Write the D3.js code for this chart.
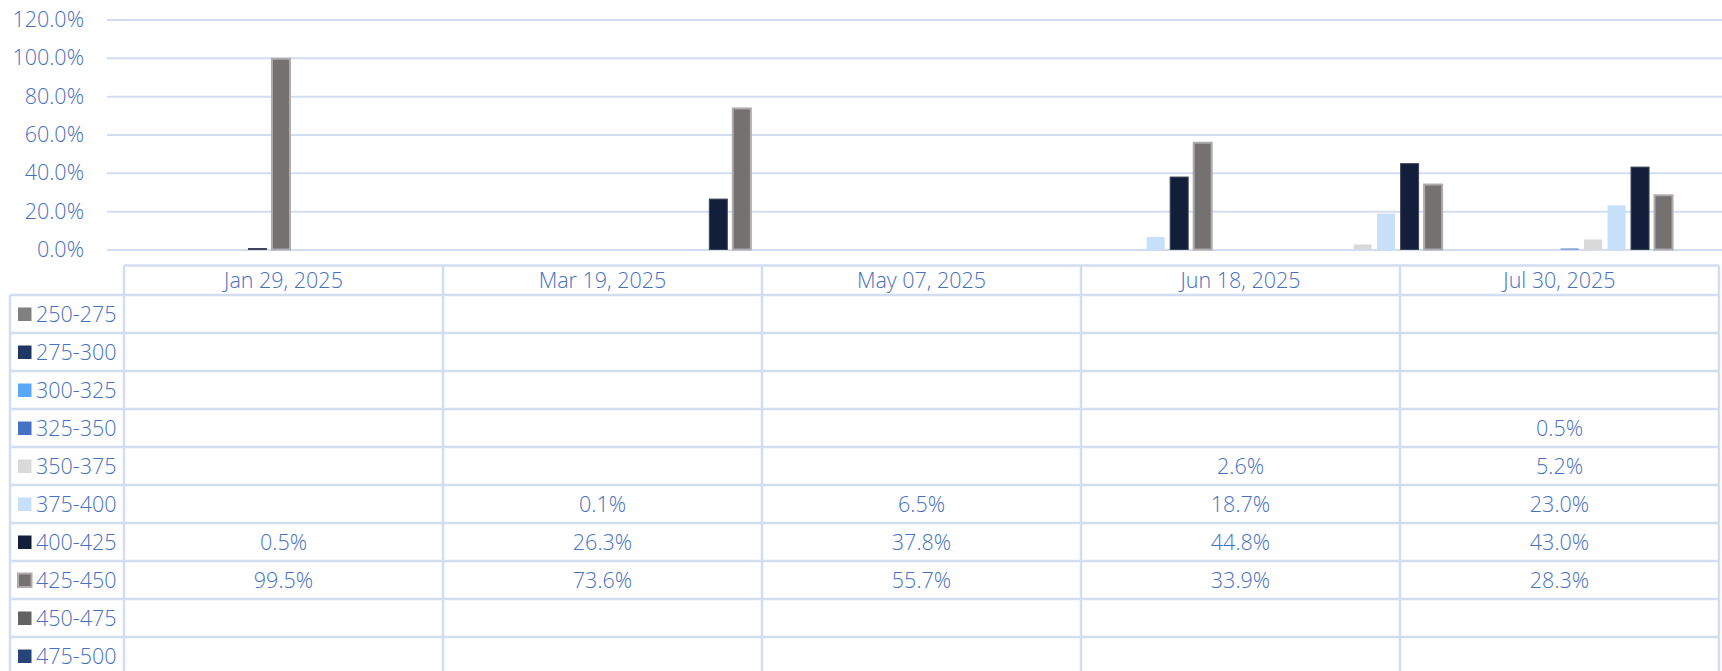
<!DOCTYPE html>
<html>
<head>
<meta charset="utf-8">
<script src="https://cdn.jsdelivr.net/npm/d3@7"></script>
<style>
  body { margin: 0; background: #fff; }
  svg text { font-family: 'Open Sans', 'Segoe UI', sans-serif; font-weight: 300; fill: #4670c0; }
</style>
</head>
<body>
<svg id="board" width="1722" height="671"></svg>
<script>
// dates shown in the data table (the chart itself uses a month axis)
let dates = ['2025-01-29', '2025-03-19', '2025-05-07', '2025-06-18', '2025-07-30']
let series = ['250-275', '275-300', '300-325', '325-350', '350-375', '375-400', '400-425', '425-450', '450-475', '475-500']

// share per date, in %, null = blank cell
let v250 = [null, null, null, null, null]
let v275 = [null, null, null, null, null]
let v300 = [null, null, null, null, null]
let v325 = [null, null, null, null, 0.5]
let v350 = [null, null, null, 2.6, 5.2]
let v375 = [null, 0.1, 6.5, 18.7, 23.0]
let v400 = [0.5, 26.3, 37.8, 44.8, 43.0]
let v425 = [99.5, 73.6, 55.7, 33.9, 28.3]
let v450 = [null, null, null, null, null]
let v475 = [null, null, null, null, null]
let values = [v250, v275, v300, v325, v350, v375, v400, v425, v450, v475]

let yTicks = [0, 0.2, 0.4, 0.6, 0.8, 1.0, 1.2]

let colors = ['#808080', '#1f3763', '#58a7f8', '#4472c4', '#d9d9d9', '#c6e0fa', '#131f3a', '#767171', '#636363', '#264478']
let strokes = [null, null, null, null, null, null, '#3d4455', '#adabab', null, null]

let lineColor = '#d3ddf1'
let fontSize = 21.5

let board = d3.select('#board')
let parse = d3.timeParse('%Y-%m-%d')
let fmtDate = d3.timeFormat('%b %d, %Y')
let pct = d3.format('.1%')

let dateObjs = dates.map(parse)

// month-based date axis like the original chart
let months = d3.timeMonth.range(d3.timeMonth.floor(dateObjs[0]), d3.timeMonth.offset(d3.timeMonth.floor(dateObjs[dateObjs.length - 1]), 1))
let x = d3.scaleBand()
    .domain(months.map(m => +m))
    .range([107, 1720])
let xSub = d3.scaleBand()
    .domain(series)
    .range([0, x.bandwidth()])
    .paddingInner(0.234)
    .paddingOuter(0.02)

let y = d3.scaleLinear()
    .domain([0, 1.2])
    .range([249.5, 19.5])

// gridlines + y labels
let yAxis = d3.axisLeft(y)
    .tickValues(yTicks)
    .tickFormat(pct)
    .tickSize(-(1722 - 107))
    .tickPadding(23)

let gy = board.append('g')
    .attr('transform', 'translate(107,0)')
    .call(yAxis)
gy.select('.domain').remove()
gy.selectAll('line').attr('stroke', lineColor).attr('stroke-width', 2)
gy.selectAll('text')
    .attr('font-size', fontSize)
    .attr('fill', '#4670c0')
    .style('font-family', "'Open Sans', sans-serif")

// bars
let barData = []
values.forEach((row, si) => {
    row.forEach((v, di) => {
        if (v !== null) barData.push({ s: si, d: di, v: v / 100 })
    })
})

board.append('g')
    .selectAll('rect')
    .data(barData)
    .enter()
    .append('rect')
    .attr('x', b => x(+d3.timeMonth.floor(dateObjs[b.d])) + xSub(series[b.s]))
    .attr('width', xSub.bandwidth())
    .attr('y', b => y(b.v))
    .attr('height', b => y(0) - y(b.v))
    .attr('fill', b => colors[b.s])
    .attr('stroke', b => strokes[b.s] || 'none')
    .attr('stroke-width', b => b.s === 7 ? 2 : 1)

// data table
let col = d3.scaleBand()
    .domain(dates)
    .range([124, 1719])
let rowH = 38
let row = d3.scaleBand()
    .domain(series)
    .range([295, 295 + rowH * series.length])
let headTop = 265.5

let table = board.append('g')

// header labels
table.selectAll('text.head')
    .data(dateObjs)
    .enter()
    .append('text')
    .attr('class', 'head')
    .attr('x', (d, i) => col(dates[i]) + col.bandwidth() / 2)
    .attr('y', (headTop + 295) / 2)
    .attr('dy', '0.36em')
    .attr('text-anchor', 'middle')
    .attr('font-size', fontSize)
    .text(d => fmtDate(d))

// cell values
let cells = []
values.forEach((r, si) => r.forEach((v, di) => { if (v !== null) cells.push({ s: si, d: di, v: v }) }))
table.selectAll('text.cell')
    .data(cells)
    .enter()
    .append('text')
    .attr('class', 'cell')
    .attr('x', c => col(dates[c.d]) + col.bandwidth() / 2)
    .attr('y', c => row(series[c.s]) + rowH / 2)
    .attr('dy', '0.36em')
    .attr('text-anchor', 'middle')
    .attr('font-size', fontSize)
    .text(c => c.v.toFixed(1) + '%')

// legend column
let leg = table.selectAll('g.leg')
    .data(series)
    .enter()
    .append('g')
    .attr('class', 'leg')
    .attr('transform', s => 'translate(0,' + (row(s) + rowH / 2) + ')')
leg.append('rect')
    .attr('x', 18)
    .attr('y', -6.5)
    .attr('width', 13.5)
    .attr('height', 13.5)
    .attr('fill', (s, i) => colors[i])
    .attr('stroke', (s, i) => i === 7 ? strokes[i] : 'none')
    .attr('stroke-width', 2)
leg.append('text')
    .attr('x', 36)
    .attr('dy', '0.36em')
    .attr('font-size', fontSize)
    .text(s => s)

// table lines
let lines = table.append('g')
    .attr('stroke', lineColor)
    .attr('stroke-width', 2.5)
let bottom = 295 + rowH * series.length
lines.append('line').attr('x1', 124).attr('x2', 1719).attr('y1', headTop).attr('y2', headTop)
series.forEach(s => {
    lines.append('line').attr('x1', 10).attr('x2', 1719).attr('y1', row(s)).attr('y2', row(s))
})
lines.append('line').attr('x1', 10).attr('x2', 10).attr('y1', 295).attr('y2', bottom)
dates.forEach(d => {
    lines.append('line').attr('x1', col(d)).attr('x2', col(d)).attr('y1', headTop).attr('y2', bottom)
})
lines.append('line').attr('x1', 1719).attr('x2', 1719).attr('y1', headTop).attr('y2', bottom)
</script>
</body>
</html>
